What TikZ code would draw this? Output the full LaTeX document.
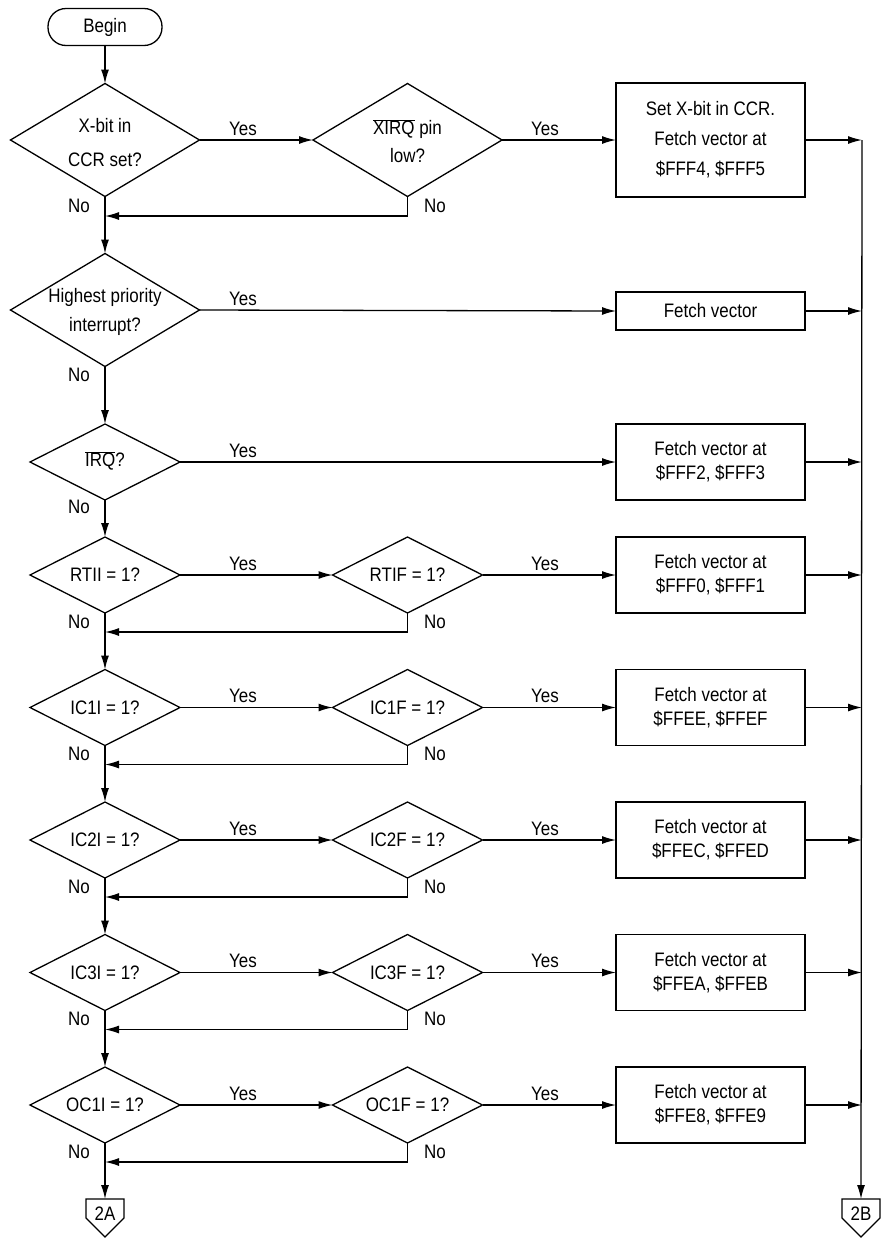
\documentclass[tikz,border=0pt]{standalone}
\usepackage{fontspec}
\setmainfont{Liberation Sans}[FakeStretch=0.87]
\usetikzlibrary{shapes.geometric,arrows.meta,calc}
\begin{document}
\begin{tikzpicture}[x=1pt,y=-1pt,line width=1.3pt,
  every node/.style={font=\fontsize{19.5pt}{24pt}\selectfont, inner sep=0pt, outer sep=0pt},
  dia/.style 2 args={draw,diamond,minimum width=#1,minimum height=#2},
  bigdia/.style={dia={189pt}{113pt}},
  smalldia/.style={dia={150pt}{76pt}},
  box/.style={draw,rectangle,minimum width=189pt,minimum height=76pt,align=center},
  txt/.style={align=center},
  lbl/.style={anchor=base},
  arr/.style={-{Latex[length=14pt,width=8pt]}},
  pill/.style={draw,rectangle,rounded corners=18pt,minimum width=114pt,minimum height=37pt},
  conn/.style={minimum width=38pt,minimum height=19pt}]
\useasboundingbox (0,0) rectangle (881,1248);

% Begin
\node[pill] (begin) at (105,27) {Begin};

% Row 0
\node[bigdia] (d1) at (105,140) {};
\node[txt] (t1) at (105,143) {X-bit in\\[10pt]CCR set?};
\node[bigdia] (d2) at (407.5,140) {};
\node[txt] (t2) at (407.5,141) {$\overline{\mbox{XIRQ}}$ pin\\[4pt]low?};
\node[box,minimum height=114pt] (b1) at (710.5,140) {Set X-bit in CCR.\\[6pt]Fetch vector at\\[6pt]\$FFF4, \$FFF5};
\coordinate (bus0) at (862,140);
\coordinate (j0) at (105,216);
\draw[arr] (d1.east) -- (d2.west);
\draw[arr] (d2.east) -- (b1.west);
\draw[arr] (b1.east) -- (bus0);
\draw[arr] (d2.south) |- (j0);
\node[lbl] (y0a) at (243,135) {Yes};
\node[lbl] (y0b) at (545,135) {Yes};
\node[lbl] (n0a) at ($(d1.south)+(-26,16)$) {No};
\node[lbl] (n0b) at ($(d2.south)+(27.5,16)$) {No};

% Row 1
\node[bigdia] (d3) at (105,310) {};
\node[txt] (t3) at (105,312) {Highest priority\\[5pt]interrupt?};
\node[box,minimum height=38pt] (b3) at (710.5,311) {Fetch vector};
\coordinate (bus1) at (862,311);
\draw[arr] (d3.east) -- (b3.west);
\draw[arr] (b3.east) -- (bus1);
\node[lbl] (y1) at (243,305.5) {Yes};
\node[lbl] (n1) at ($(d3.south)+(-26,15)$) {No};

% Row 2
\node[smalldia] (d4) at (105,462) {};
\node[txt] (t4) at (105,461) {$\overline{\mbox{IRQ}}$?};
\node[box] (b4) at (710.5,462) {Fetch vector at\\\$FFF2, \$FFF3};
\coordinate (bus2) at (862,462);
\draw[arr] (d4.east) -- (b4.west);
\draw[arr] (b4.east) -- (bus2);
\node[lbl] (y2) at (243,457.5) {Yes};
\node[lbl] (n2) at ($(d4.south)+(-26,13)$) {No};

% Rows 3-7
\foreach \n/\yy/\ia/\fa/\va in {3/575/RTII/RTIF/{\$FFF0, \$FFF1},
    4/707.5/IC1I/IC1F/{\$FFEE, \$FFEF},
    5/840/IC2I/IC2F/{\$FFEC, \$FFED},
    6/972.5/IC3I/IC3F/{\$FFEA, \$FFEB},
    7/1105/OC1I/OC1F/{\$FFE8, \$FFE9}} {
  \node[smalldia] (da\n) at (105,\yy) {};
  \node[txt] (ta\n) at (105,\yy) {\ia{} = 1?};
  \node[smalldia] (db\n) at (407.5,\yy) {};
  \node[txt] (tb\n) at (407.5,\yy) {\fa{} = 1?};
  \node[box] (b\n) at (710.5,\yy) {Fetch vector at\\\va};
  \coordinate (bus\n) at (862,\yy);
  \coordinate (j\n) at (105,\yy+57);
  \draw[arr] (da\n.east) -- (db\n.west);
  \draw[arr] (db\n.east) -- (b\n.west);
  \draw[arr] (b\n.east) -- (bus\n);
  \draw[arr] (db\n.south) |- (j\n);
  \node[lbl] (ya\n) at (243,\yy-5) {Yes};
  \node[lbl] (yb\n) at (545,\yy-5) {Yes};
  \node[lbl] (na\n) at ($(da\n.south)+(-26,15)$) {No};
  \node[lbl] (nb\n) at ($(db\n.south)+(27.5,15)$) {No};
}

% Off-page connectors
\node[conn] (c2A) at (105,1208.5) {};
\draw (c2A.north west) -- (c2A.north east) -- (c2A.south east) -- ($(c2A.south)+(0,19)$) -- (c2A.south west) -- cycle;
\node[txt] (l2A) at (105,1214) {2A};
\node[conn] (c2B) at (861,1208.5) {};
\draw (c2B.north west) -- (c2B.north east) -- (c2B.south east) -- ($(c2B.south)+(0,19)$) -- (c2B.south west) -- cycle;
\node[txt] (l2B) at (861,1214) {2B};

% Main vertical chain
\draw[arr] (begin.south) -- (d1.north);
\draw[arr] (d1.south) -- (d3.north);
\draw[arr] (d3.south) -- (d4.north);
\draw[arr] (d4.south) -- (da3.north);
\draw[arr] (da3.south) -- (da4.north);
\draw[arr] (da4.south) -- (da5.north);
\draw[arr] (da5.south) -- (da6.north);
\draw[arr] (da6.south) -- (da7.north);
\draw[arr] (da7.south) -- (c2A.north);

% Right bus
\draw[arr] (bus0) -- (c2B.north);
\end{tikzpicture}
\end{document}
